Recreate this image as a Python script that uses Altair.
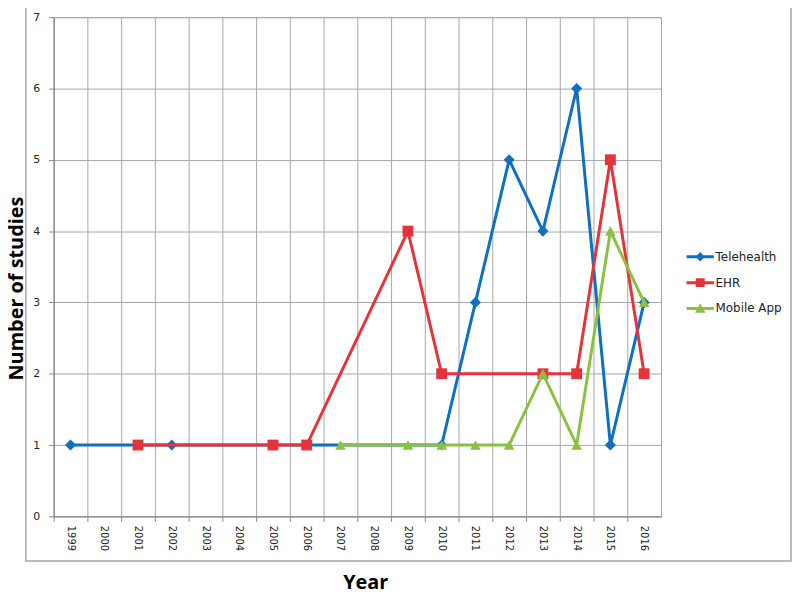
import altair as alt
import pandas as pd

years = [str(y) for y in range(1999, 2017)]
series_names = ["Telehealth", "EHR", "Mobile App"]

tele_years = ["1999", "2002", "2010", "2011", "2012", "2013", "2014", "2015", "2016"]
tele_vals = [1, 1, 1, 3, 5, 4, 6, 1, 3]
ehr_years = ["2001", "2005", "2006", "2009", "2010", "2013", "2014", "2015", "2016"]
ehr_vals = [1, 1, 1, 4, 2, 2, 2, 5, 2]
app_years = ["2007", "2009", "2010", "2011", "2012", "2013", "2014", "2015", "2016"]
app_vals = [1, 1, 1, 1, 1, 2, 1, 4, 3]

colors = ["#0F6FC0", "#E3343B", "#8BC043"]
marker_shapes = ["diamond", "square", "triangle-up"]
marker_sizes = [125, 120, 115]
legend_paths = [
    "M-1.1,-0.12L1.1,-0.12L1.1,0.12L-1.1,0.12Z M0,-0.38L0.38,0L0,0.38L-0.38,0Z",
    "M-1.1,-0.12L1.1,-0.12L1.1,0.12L-1.1,0.12Z M-0.36,-0.36L0.36,-0.36L0.36,0.36L-0.36,0.36Z",
    "M-1.1,-0.12L1.1,-0.12L1.1,0.12L-1.1,0.12Z M0,-0.4L0.42,0.34L-0.42,0.34Z",
]

rows = []
for name, ys, vs in zip(series_names, [tele_years, ehr_years, app_years], [tele_vals, ehr_vals, app_vals]):
    for y, v in zip(ys, vs):
        rows.append({"series": name, "year": y, "value": v})
df = pd.DataFrame(rows)

grid_col = "#A6A6A6"
X = alt.X(
    "year:O",
    scale=alt.Scale(type="band", domain=years, paddingInner=0, paddingOuter=0),
    axis=alt.Axis(
        title="Year",
        bandPosition=0,
        grid=True,
        gridColor=grid_col,
        gridWidth=1,
        domainColor="#868686",
        tickColor="#868686",
        tickSize=5,
        labelAngle=90,
        labelPadding=4,
        labelFont="DejaVu Sans",
        labelFontSize=10,
        labelColor="#222222",
        titleFont="Open Sans",
        titleFontSize=20,
        titleFontWeight="bold",
        titleColor="#000000",
        titleX=314,
        titleY=73,
        titleBaseline="alphabetic",
    ),
)
Y = alt.Y(
    "value:Q",
    scale=alt.Scale(domain=[0, 7], nice=False),
    axis=alt.Axis(
        title="Number of studies",
        values=[0, 1, 2, 3, 4, 5, 6, 7],
        format="d",
        grid=True,
        gridColor=grid_col,
        gridWidth=1,
        domainColor="#868686",
        tickColor="#868686",
        tickSize=5,
        labelPadding=9,
        labelFont="DejaVu Sans",
        labelFontSize=11,
        labelColor="#222222",
        titleFont="Open Sans",
        titleFontSize=20,
        titleFontWeight="bold",
        titleColor="#000000",
        titleX=-31,
        titleY=273,
        titleBaseline="alphabetic",
    ),
)

base = alt.Chart(df)
layers = []

frame = alt.Chart(pd.DataFrame({"a": [0]})).mark_rect(
    fillOpacity=0, stroke="#A6A6A6", strokeWidth=1.5
).encode(x=alt.value(-28), x2=alt.value(743), y=alt.value(-13), y2=alt.value(548))
layers.append(frame)

for name, col, shp, sz in zip(series_names, colors, marker_shapes, marker_sizes):
    sub = base.transform_filter(alt.datum.series == name)
    layers.append(sub.mark_line(color=col, strokeWidth=3).encode(x=X, y=Y))
    layers.append(
        sub.mark_point(color=col, filled=True, shape=shp, size=sz, opacity=1).encode(x=X, y=Y)
    )

leg = alt.Legend(
    title=None,
    orient="none",
    legendX=639,
    legendY=229,
    symbolSize=625,
    symbolStrokeWidth=0,
    labelFont="DejaVu Sans",
    labelFontSize=12,
    labelColor="#222222",
    labelOffset=3,
    rowPadding=7,
    padding=0,
)
legend_layer = base.transform_filter("false").mark_point(filled=True, opacity=1).encode(
    x=X,
    y=Y,
    color=alt.Color("series:N", scale=alt.Scale(domain=series_names, range=colors), legend=leg),
    shape=alt.Shape("series:N", scale=alt.Scale(domain=series_names, range=legend_paths), legend=leg),
)
layers.append(legend_layer)

chart = (
    alt.layer(*layers)
    .properties(
        width=612,
        height=503,
        autosize=alt.AutoSizeParams(type="none"),
        padding={"left": 46, "top": 7, "right": 132, "bottom": 76},
        background="white",
    )
    .configure_view(stroke=grid_col, strokeWidth=1)
)

chart.save("out.html", embed_options={"renderer": "svg", "actions": False})
